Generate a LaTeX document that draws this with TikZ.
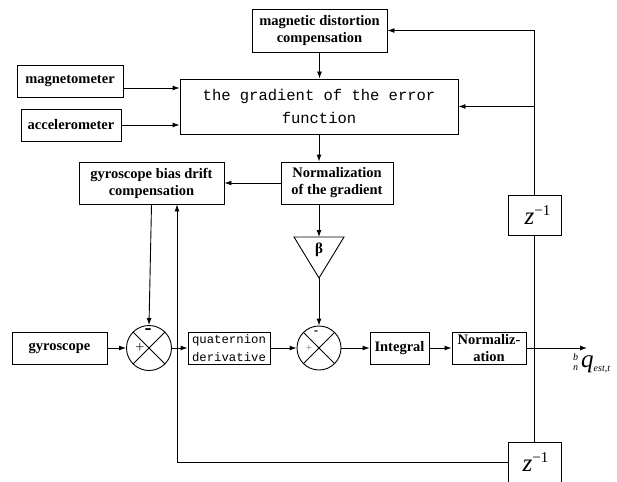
\documentclass[tikz,border=0pt]{standalone}
\usepackage{fontspec}
\setmainfont{Liberation Serif}
\setmonofont{Liberation Mono}
\usetikzlibrary{arrows.meta,calc}
\newcommand{\zinv}{{\fontsize{25}{25}\selectfont\itshape z}\raisebox{9pt}{\fontsize{15}{15}\selectfont \textminus1}}
\begin{document}
\begin{tikzpicture}[x=1pt,y=-1pt,
  blk/.style={draw,line width=0.9pt,inner sep=0pt,align=center,
              font=\bfseries\fontsize{14.5}{17}\selectfont},
  mono/.style={draw,line width=0.9pt,inner sep=0pt,align=center},
  sumc/.style={draw,circle,line width=0.9pt,minimum size=45pt,inner sep=0pt},
  ln/.style={line width=0.9pt},
  arr/.style={line width=0.9pt,-{Latex[length=7pt,width=5pt]}}]
\useasboundingbox (0,0) rectangle (617,481);

% blocks
\node[blk,minimum width=135pt,minimum height=43pt] (md) at (319.5,30.5) {magnetic distortion\\compensation};
\node[blk,minimum width=106pt,minimum height=32pt] (mag) at (70,81) {magnetometer};
\node[blk,minimum width=100pt,minimum height=32pt] (acc) at (71,125) {accelerometer};
\node[mono,minimum width=278pt,minimum height=55pt,font=\ttfamily\fontsize{15.5}{23}\selectfont] (grad) at (319,106.5) {the gradient of the error\\function};
\node[blk,minimum width=112pt,minimum height=42pt] (ng) at (337,183) {Normalization\\of the gradient};
\node[blk,minimum width=145pt,minimum height=42pt] (gb) at (151.5,183) {gyroscope bias drift\\compensation};
\node[blk,minimum width=95pt,minimum height=32pt] (gyro) at (59.5,348) {gyroscope};
\node[sumc] (s1) at (149,348) {};
\node[mono,minimum width=82pt,minimum height=32pt,font=\ttfamily\fontsize{12.3}{18.5}\selectfont] (quat) at (229,348) {quaternion\\derivative};
\node[sumc,minimum size=44pt] (s2) at (319,348) {};
\node[blk,minimum width=59pt,minimum height=32pt] (int) at (399.5,348) {Integral};
\node[blk,minimum width=74pt,minimum height=32pt] (nz) at (489,348) {Normaliz-\\ation};
\node[draw,line width=0.9pt,minimum width=53pt,minimum height=40pt,inner sep=0pt] (z1) at (534.5,215) {\hspace{6pt}\zinv};
\node[draw,line width=0.9pt,minimum width=53pt,minimum height=40pt,inner sep=0pt] (z2) at (534.5,462) {\hspace{2pt}\zinv};

% summation crosses and signs
\draw[ln] (s1.45) -- (s1.225) (s1.135) -- (s1.-45);
\draw[ln] (s2.45) -- (s2.225) (s2.135) -- (s2.-45);
\node[font=\bfseries\fontsize{21}{21}\selectfont] (s1m) at (148,332) {-};
\node[font=\fontsize{16}{16}\selectfont,text=black!80] (s1p) at (140,348) {+};
\node[font=\bfseries\fontsize{13}{13}\selectfont] (s2m) at (316,333) {-};
\node[font=\fontsize{11}{11}\selectfont,text=black!55] (s2p) at (309,348) {+};

% beta triangle
\coordinate (btop) at (319,237);
\coordinate (bapex) at (319,278);
\draw[line width=0.9pt] (294,237) -- (344,237) -- (bapex) -- cycle;
\node[font=\bfseries\fontsize{15}{15}\selectfont] (beta) at (319,250) {β};

% output label
\coordinate (out) at (587,348);
\node[anchor=west,inner sep=0pt] (qlab) at (573,363)
  {\makebox[0pt][l]{\raisebox{7pt}{\fontsize{10}{10}\selectfont\itshape b}}\raisebox{-3pt}{\fontsize{10}{10}\selectfont\itshape n}\hspace{3pt}{\fontsize{25}{25}\selectfont\itshape q}\raisebox{-4pt}{\fontsize{10}{10}\selectfont\itshape est,t}};

% connectors
\draw[arr] (md.south) -- (md.south |- grad.north);
\draw[arr] ([yshift=-7pt]mag.east) -- ([yshift=-7pt]mag.east -| grad.west);
\draw[arr] (acc.east) -- (acc.east -| grad.west);
\draw[arr] (grad.south) -- (grad.south |- ng.north);
\draw[arr] (ng.west) -- (gb.east);
\draw[arr] (grad.south |- ng.south) -- (btop);
\draw[arr] (bapex) -- (s2.north);
\draw[arr] (gb.south) -- (s1.north);
\draw[arr] (gyro.east) -- (s1.west);
\draw[arr] (s1.east) -- (quat.west);
\draw[arr] (quat.east) -- (s2.west);
\draw[arr] (s2.east) -- (int.west);
\draw[arr] (int.east) -- (nz.west);
\draw[arr] (nz.east) -- (out);
\draw[ln] (z1.south) -- (z2.north);
\draw[arr] (z1.north) -- (z1.north |- md.east) -- (md.east);
\draw[arr] (z1.north |- grad.east) -- (grad.east);
\coordinate (gbin) at ([xshift=25.5pt]gb.south);
\draw[arr] (z2.west) -| (gbin);
\end{tikzpicture}
\end{document}
